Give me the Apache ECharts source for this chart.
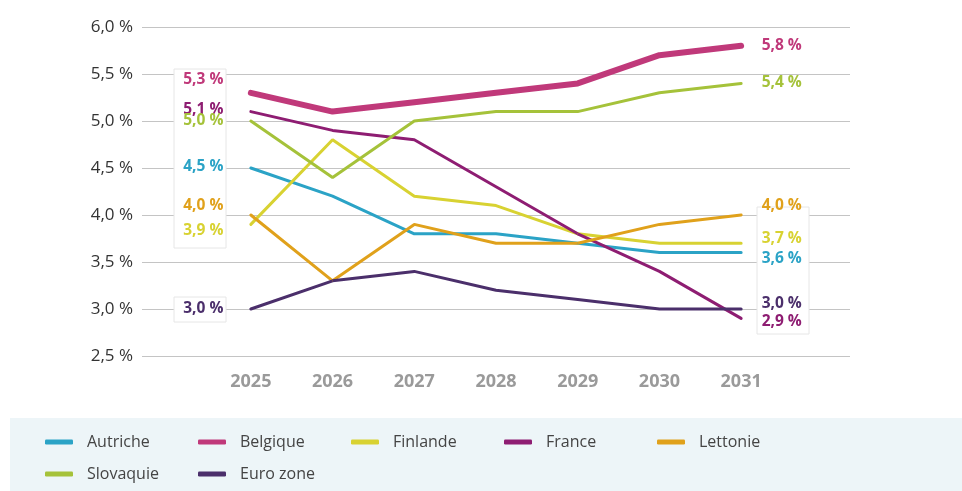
<!DOCTYPE html>
<html>
<head>
<meta charset="utf-8">
<script src="https://cdn.jsdelivr.net/npm/echarts@6/dist/echarts.min.js"></script>
<style>
  html, body { margin: 0; padding: 0; background: #fff; }
  #chart { width: 962px; height: 491px; }
</style>
</head>
<body>
<div id="chart"></div>
<script>
var years = ['2025', '2026', '2027', '2028', '2029', '2030', '2031'];
var names = ['Autriche', 'Belgique', 'Finlande', 'France', 'Lettonie', 'Slovaquie', 'Euro zone'];

var autriche = [4.5, 4.2, 3.8, 3.8, 3.7, 3.6, 3.6];
var belgique = [5.3, 5.1, 5.2, 5.3, 5.4, 5.7, 5.8];
var finlande = [3.9, 4.8, 4.2, 4.1, 3.8, 3.7, 3.7];
var france = [5.1, 4.9, 4.8, 4.3, 3.8, 3.4, 2.9];
var lettonie = [4.0, 3.3, 3.9, 3.7, 3.7, 3.9, 4.0];
var slovaquie = [5.0, 4.4, 5.0, 5.1, 5.1, 5.3, 5.4];
var eurozone = [3.0, 3.3, 3.4, 3.2, 3.1, 3.0, 3.0];

var values = [autriche, belgique, finlande, france, lettonie, slovaquie, eurozone];
var colors = ['#2ba3c6', '#c0397a', '#d8d232', '#8e1d72', '#e0a11b', '#a5c23a', '#4b2f6b'];
var widths = [3, 6, 3, 3, 3, 3, 3];
// vertical nudges for the end labels so they don't collide
var startShift = [-1, -13, 6, -2, -9, 0, 0];
var endShift = [6, 0, -5, 3, -9, -1, -5];

function pct(v) {
    return v.toFixed(1).replace('.', ',') + ' %';
}

var myChart = echarts.init(document.getElementById('chart'));

var series = values.map(function (arr, i) {
    var data = arr.map(function (v, j) {
        if (j === 0) {
            return { value: v, label: { show: true, position: 'left', distance: 27, offset: [0, startShift[i]] } };
        }
        if (j === arr.length - 1) {
            return { value: v, label: { show: true, position: 'right', distance: 20, offset: [0, endShift[i]] } };
        }
        return v;
    });
    return {
        name: names[i],
        type: 'line',
        xAxisIndex: 1,
        yAxisIndex: 1,
        data: data,
        symbol: 'circle',
        symbolSize: 1,
        showSymbol: true,
        color: colors[i],
        itemStyle: { color: colors[i] },
        lineStyle: { width: widths[i], color: colors[i], cap: 'round' },
        label: {
            show: false,
            color: colors[i],
            fontFamily: 'Open Sans',
            fontWeight: 'bold',
            fontSize: 15.5,
            formatter: function (p) { return pct(p.value); }
        },
        emphasis: { disabled: true }
    };
});

option = {
    animation: false,
    textStyle: { fontFamily: 'Open Sans' },
    grid: [
        { left: 142, right: 112, top: 27, bottom: 135 },
        { left: 210, right: 180, top: 27, bottom: 135 }
    ],
    xAxis: [
        { type: 'category', gridIndex: 0, data: years, show: false },
        {
            type: 'category',
            gridIndex: 1,
            data: years,
            axisLine: { show: false },
            axisTick: { show: false },
            axisLabel: { color: '#9a9a9a', fontSize: 18, fontWeight: 'bold', margin: 17 }
        }
    ],
    yAxis: [
        {
            type: 'value',
            gridIndex: 0,
            min: 2.5,
            max: 6,
            interval: 0.5,
            axisLine: { show: false },
            axisTick: { show: false },
            axisLabel: { color: '#333', fontSize: 17, margin: 9, formatter: pct },
            splitLine: { lineStyle: { color: '#c4c4c4', width: 1 } }
        },
        { type: 'value', gridIndex: 1, min: 2.5, max: 6, interval: 0.5, show: false, splitLine: { show: false } }
    ],
    legend: {
        left: 40,
        top: 429,
        width: 790,
        itemWidth: 28,
        itemHeight: 5,
        itemGap: 16,
        icon: 'roundRect',
        textStyle: { color: '#444', fontSize: 16, width: 95, lineHeight: 12, padding: [0, 0, 0, 9] },
        data: names
    },
    graphic: [
        { type: 'rect', z: -10, shape: { x: 10, y: 418, width: 952, height: 73 }, style: { fill: '#edf5f8' } },
        { type: 'rect', z: 1, shape: { x: 174, y: 69, width: 52, height: 179 }, style: { fill: '#fff', stroke: '#e6e6e6', lineWidth: 1 } },
        { type: 'rect', z: 1, shape: { x: 174, y: 297, width: 52, height: 25 }, style: { fill: '#fff', stroke: '#e6e6e6', lineWidth: 1 } },
        { type: 'rect', z: 1, shape: { x: 757, y: 207, width: 52, height: 127 }, style: { fill: '#fff', stroke: '#e6e6e6', lineWidth: 1 } }
    ],
    series: series
};

myChart.setOption(option);
</script>
</body>
</html>
